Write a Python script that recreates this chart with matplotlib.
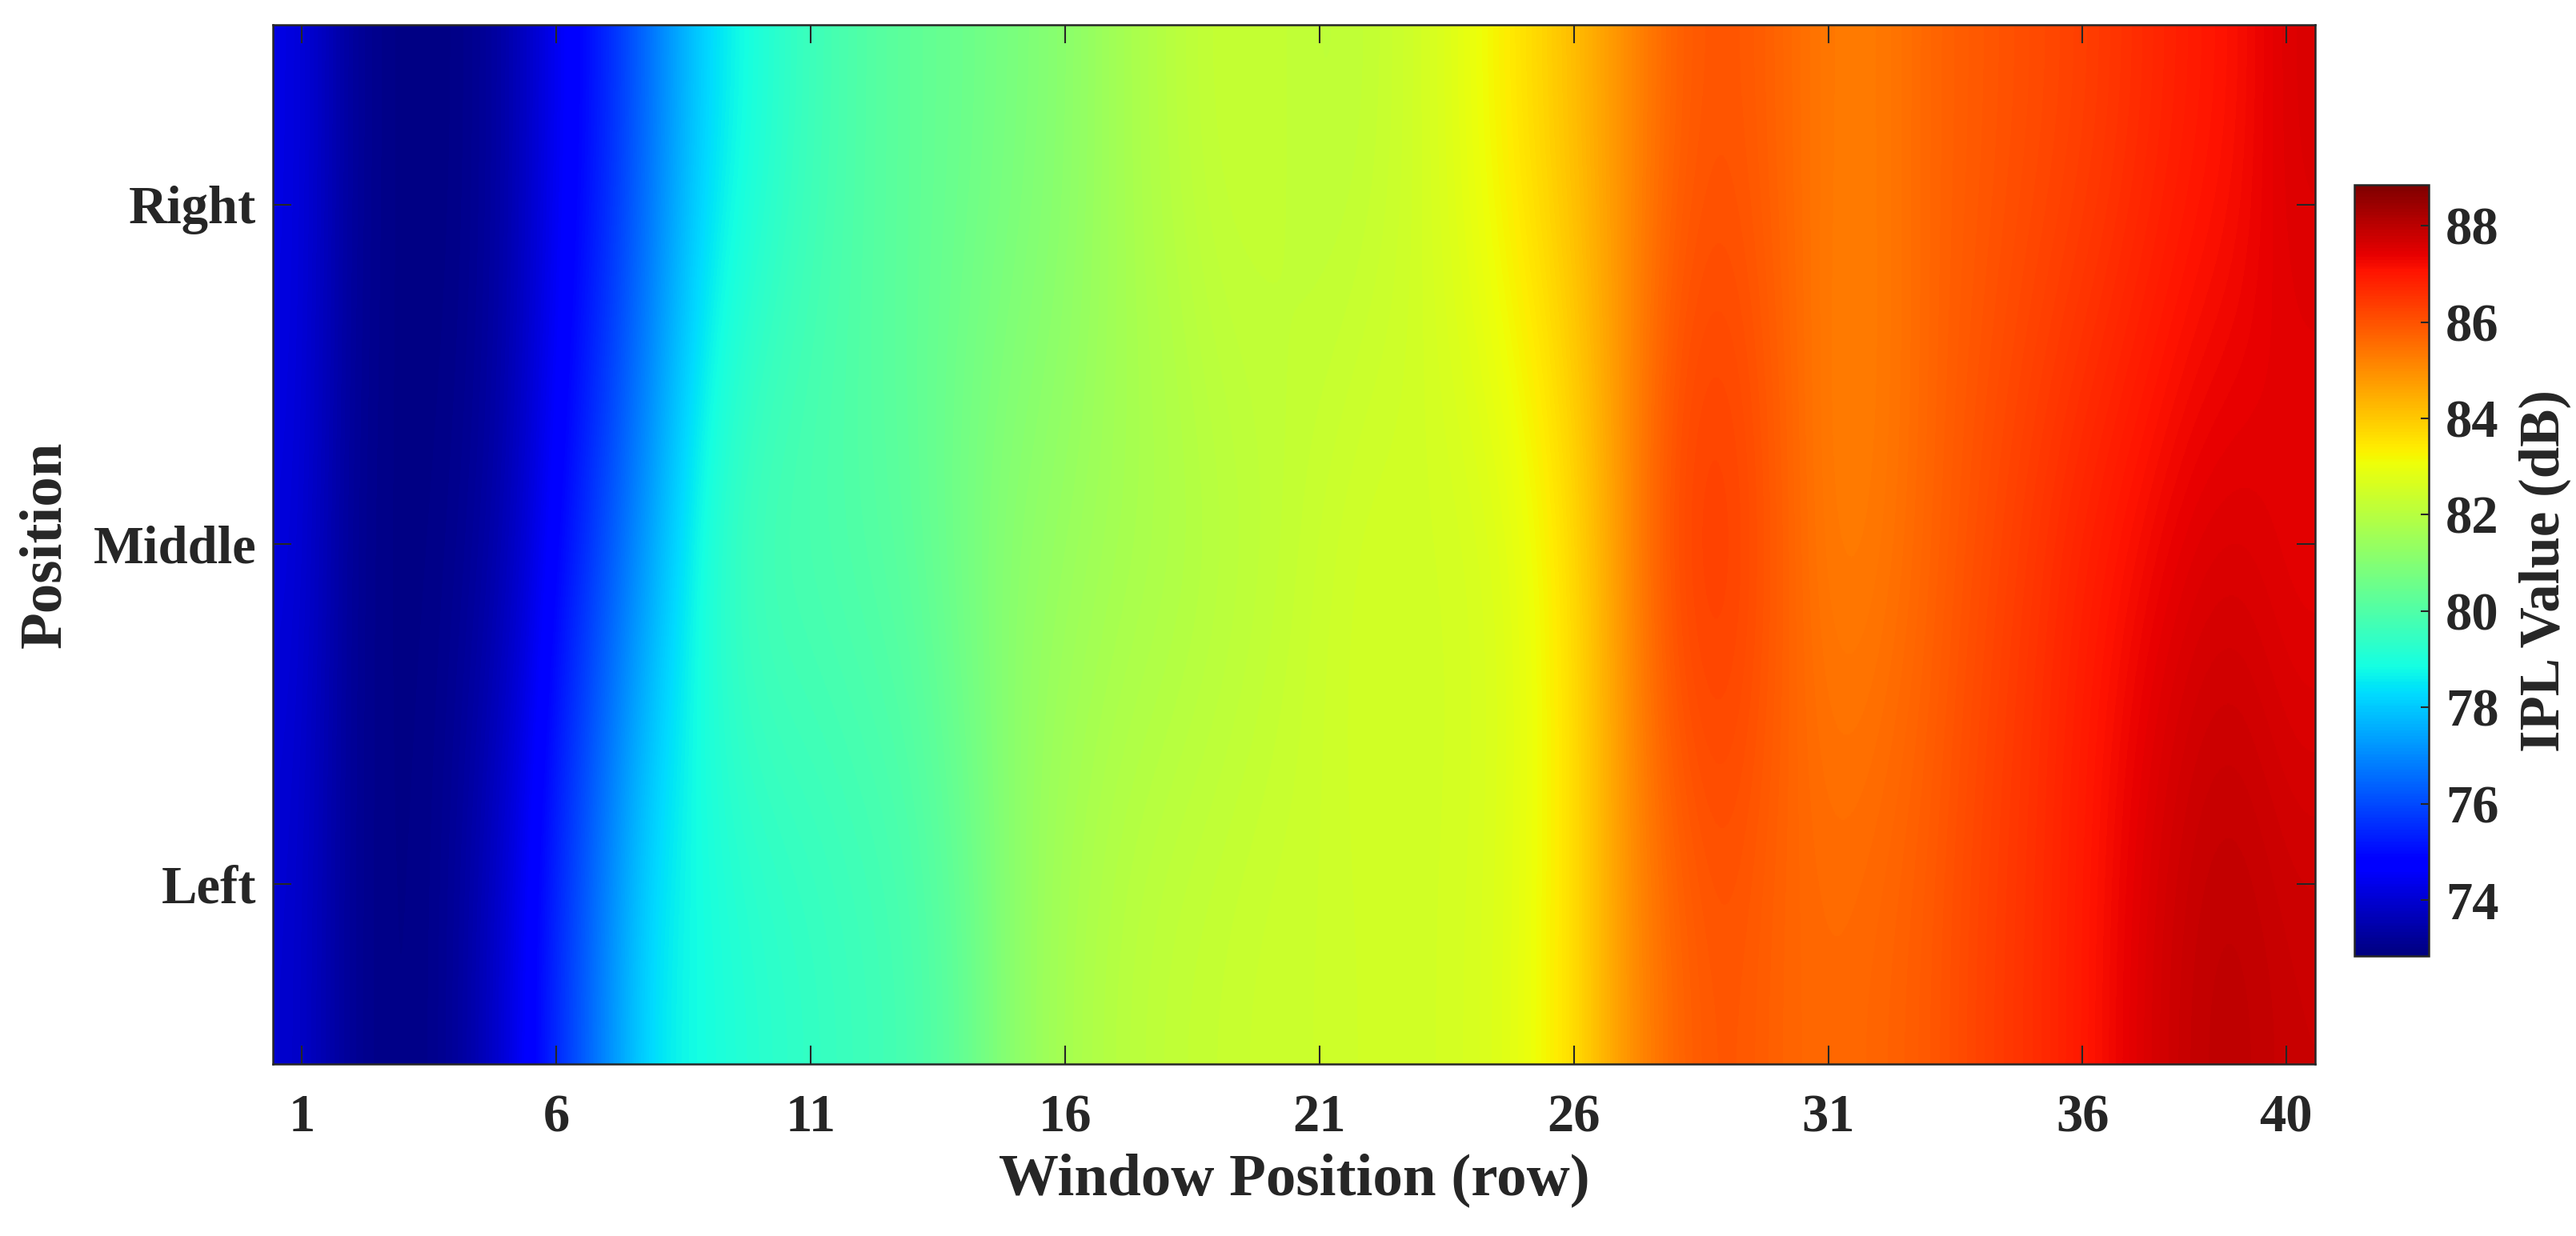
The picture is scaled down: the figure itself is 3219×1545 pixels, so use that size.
import numpy as np
import matplotlib
matplotlib.use('Agg')
import matplotlib.pyplot as plt

# IPL values (dB) per window row, one list for each position
window_rows = list(range(1, 41))
positions = ['Left', 'Middle', 'Right']

left_vals = [74.0, 73.1, 72.9, 73.1, 74.0, 75.4, 77.0, 78.6, 78.9, 79.2,
             79.4, 79.6, 79.8, 80.3, 81.2, 81.7, 82.0, 82.2, 82.3, 82.4,
             82.4, 82.5, 82.5, 82.6, 82.9, 83.6, 84.9, 85.7, 86.0, 85.7,
             85.6, 85.7, 85.9, 86.3, 86.6, 87.0, 87.5, 87.9, 88.0, 87.8]

middle_vals = [74.2, 73.1, 72.9, 73.0, 73.4, 74.7, 76.0, 77.6, 79.3, 80.0,
               80.0, 80.1, 80.3, 80.8, 81.2, 81.4, 81.6, 81.7, 81.9, 82.1,
               82.4, 82.6, 82.5, 82.5, 82.8, 83.6, 85.0, 86.4, 86.5, 85.9,
               85.2, 85.3, 85.7, 86.1, 86.5, 86.9, 87.2, 87.5, 87.6, 87.3]

right_vals = [74.3, 73.2, 72.9, 72.9, 73.3, 74.4, 75.3, 76.8, 78.3, 79.0,
              79.6, 80.0, 80.3, 80.5, 80.8, 81.1, 81.6, 82.0, 82.3, 82.3,
              82.1, 82.2, 82.5, 83.0, 83.6, 84.2, 85.0, 85.8, 86.0, 85.7,
              85.3, 85.3, 85.7, 85.9, 86.1, 86.3, 86.6, 86.9, 87.1, 87.6]

xtick_vals = [1, 6, 11, 16, 21, 26, 31, 36, 40]
cbar_ticks = [74, 76, 78, 80, 82, 84, 86, 88]

plt.rcParams['font.family'] = ['Liberation Serif', 'DejaVu Serif']
plt.rcParams['font.weight'] = 'bold'
txt = '#262626'

grid = np.array([left_vals, middle_vals, right_vals])

fig = plt.figure(figsize=(3219 / 300, 1545 / 300), dpi=300)
ax = fig.add_axes([341 / 3219, 1 - 1330 / 1545, (2893 - 341) / 3219, (1330 - 31) / 1545])

im = ax.imshow(grid, cmap='jet', origin='lower', aspect='auto',
               interpolation='bicubic', vmin=72.84, vmax=88.85,
               extent=(0.43, 40.57, 0.47, 3.53))
ax.set_xlim(0.43, 40.57)
ax.set_ylim(0.47, 3.53)

ax.set_xticks(xtick_vals)
ax.set_xticklabels([str(v) for v in xtick_vals])
ax.set_yticks([1, 2, 3])
ax.set_yticklabels(positions)
ax.tick_params(direction='in', length=5.5, width=0.5, colors=txt,
               labelsize=16, top=True, right=True)
ax.tick_params(axis='x', pad=9)
ax.tick_params(axis='y', pad=5)
for s in ax.spines.values():
    s.set_linewidth(0.6)
    s.set_color(txt)

ax.set_xlabel('Window Position (row)', fontsize=18, fontweight='bold', color=txt, labelpad=3)
ax.set_ylabel('Position', fontsize=18, fontweight='bold', color=txt, labelpad=6)

cax = fig.add_axes([2942 / 3219, 1 - 1195 / 1545, (3035 - 2942) / 3219, (1195 - 231) / 1545])
cb = fig.colorbar(im, cax=cax)
cb.set_ticks(cbar_ticks)
cb.ax.tick_params(direction='in', length=2.5, width=0.5, colors=txt, labelsize=16, pad=5)
cb.outline.set_linewidth(0.6)
cb.outline.set_edgecolor(txt)
cb.set_label('IPL Value (dB)', fontsize=17, fontweight='bold', color=txt, labelpad=6)

fig.savefig('out.png', dpi=300)
